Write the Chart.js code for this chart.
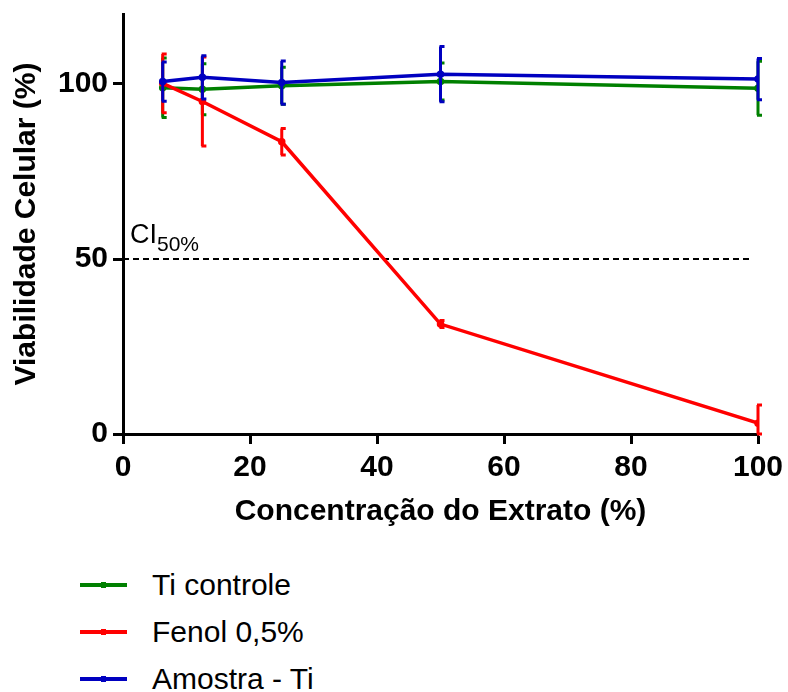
<!DOCTYPE html>
<html>
<head>
<meta charset="utf-8">
<script src="https://cdn.jsdelivr.net/npm/chart.js@4.4.1/dist/chart.umd.min.js"></script>
<style>
  html, body { margin: 0; padding: 0; background: #fff; }
  #wrap { position: relative; width: 788px; height: 692px; font-family: 'Liberation Sans', Arial, sans-serif; }
  #chart { position: absolute; left: 0; top: 0; }
  .legend-row { position: absolute; left: 80px; height: 30px; display: flex; align-items: center; font-size: 30px; color: #000; }
  .legend-row .swatch { position: relative; width: 47px; height: 4px; margin-right: 25px; }
  .legend-row .swatch i { position: absolute; left: 21px; top: -1px; width: 5px; height: 6px; }
</style>
</head>
<body>
<div id="wrap">
  <canvas id="chart" width="788" height="540"></canvas>
  <div id="legend"></div>
</div>
<script>
const conc = [6.25, 12.5, 25, 50, 100];

const tiControle = [98.9, 98.5, 99.5, 100.7, 98.8];
const tiControleErr = [8.5, 7.3, 5.3, 5.3, 7.7];

const fenol = [100.2, 95.0, 83.5, 31.4, 3.1];
const fenolErr = [8.4, 12.7, 3.8, 1.0, 5.2];

const amostra = [100.7, 101.9, 100.4, 102.8, 101.4];
const amostraErr = [5.6, 6.2, 6.2, 7.9, 5.9];

const cutoffX = [0, 99];
const cutoffY = [50, 50];

const xTicks = [0, 20, 40, 60, 80, 100];
const yTicks = [0, 50, 100];

const series = [
  { label: 'Ti controle', values: tiControle, err: tiControleErr, color: '#008000', order: 3 },
  { label: 'Fenol 0,5%', values: fenol, err: fenolErr, color: '#ff0000', order: 2 },
  { label: 'Amostra - Ti', values: amostra, err: amostraErr, color: '#0000c0', order: 1 },
];

const FONT = "'Liberation Sans', Arial, sans-serif";

// error bars drawn right after each dataset so the stacking matches the lines
const errorBars = {
  id: 'errorBars',
  afterDatasetDraw(chart, args) {
    const ds = chart.data.datasets[args.index];
    if (!ds.errors) return;
    const { ctx, chartArea } = chart;
    const x = chart.scales.x;
    const y = chart.scales.y;
    ctx.save();
    ctx.strokeStyle = ds.borderColor;
    ctx.lineWidth = 3;
    ds.data.forEach((pt, i) => {
      const px = x.getPixelForValue(pt.x);
      const top = y.getPixelForValue(pt.y + ds.errors[i]);
      const bot = Math.min(y.getPixelForValue(pt.y - ds.errors[i]), chartArea.bottom);
      ctx.beginPath();
      ctx.moveTo(px, top);
      ctx.lineTo(px, bot);
      ctx.moveTo(px - 1, top);
      ctx.lineTo(px + 4, top);
      ctx.moveTo(px - 1, bot);
      ctx.lineTo(px + 4, bot);
      ctx.stroke();
    });
    ctx.restore();
  },
};

const ciLabel = {
  id: 'ciLabel',
  afterDatasetsDraw(chart) {
    const { ctx } = chart;
    const px = chart.scales.x.getPixelForValue(1.1);
    const py = chart.scales.y.getPixelForValue(cutoffY[0]);
    ctx.save();
    ctx.fillStyle = '#000';
    ctx.textBaseline = 'alphabetic';
    ctx.font = `27px ${FONT}`;
    ctx.fillText('CI', px, py - 16);
    const w = ctx.measureText('CI').width;
    ctx.font = `21px ${FONT}`;
    ctx.fillText('50%', px + w, py - 8);
    ctx.restore();
  },
};

const datasets = series.map((s) => ({
  label: s.label,
  data: conc.map((c, i) => ({ x: c, y: s.values[i] })),
  errors: s.err,
  borderColor: s.color,
  backgroundColor: s.color,
  borderWidth: 3.5,
  pointRadius: 2,
  pointHoverRadius: 2,
  tension: 0,
  order: s.order,
}));

datasets.push({
  label: 'CI50%',
  data: cutoffX.map((c, i) => ({ x: c, y: cutoffY[i] })),
  borderColor: '#000',
  borderWidth: 1.8,
  borderDash: [6, 4],
  pointRadius: 0,
  order: 5,
});

new Chart(document.getElementById('chart'), {
  type: 'line',
  data: { datasets },
  options: {
    responsive: false,
    animation: false,
    layout: { padding: { left: 0, right: 30, top: 14, bottom: 0 } },
    plugins: { legend: { display: false }, tooltip: { enabled: false } },
    scales: {
      x: {
        type: 'linear',
        min: 0,
        max: 100,
        afterFit: (scale) => {
          scale.height = 106;
          scale.paddingLeft = 0;
          scale.paddingRight = 0;
        },
        afterBuildTicks: (scale) => { scale.ticks = xTicks.map((v) => ({ value: v })); },
        border: { display: true, color: '#000', width: 3 },
        grid: { drawOnChartArea: false, drawTicks: true, tickLength: 10, tickWidth: 3, tickColor: '#000' },
        ticks: { color: '#000', padding: 6, font: { family: FONT, size: 30, weight: 'bold' } },
        title: {
          display: true,
          text: 'Concentração do Extrato (%)',
          color: '#000',
          padding: { top: 0, bottom: 10 },
          font: { family: FONT, size: 30, weight: 'bold' },
        },
      },
      y: {
        type: 'linear',
        min: 0,
        max: 120,
        afterFit: (scale) => {
          scale.width = 123;
          scale.paddingTop = 0;
          scale.paddingBottom = 0;
        },
        afterBuildTicks: (scale) => { scale.ticks = yTicks.map((v) => ({ value: v })); },
        border: { display: true, color: '#000', width: 3 },
        grid: { drawOnChartArea: false, drawTicks: true, tickLength: 10, tickWidth: 3, tickColor: '#000' },
        ticks: { color: '#000', padding: 5, font: { family: FONT, size: 30, weight: 'bold' } },
        title: {
          display: true,
          text: 'Viabilidade Celular (%)',
          color: '#000',
          padding: { top: 9, bottom: 0 },
          font: { family: FONT, size: 30, weight: 'bold' },
        },
      },
    },
  },
  plugins: [errorBars, ciLabel],
});

// legend under the chart
const legendEl = document.getElementById('legend');
series.forEach((s, i) => {
  const row = document.createElement('div');
  row.className = 'legend-row';
  row.style.top = `${570 + i * 47}px`;
  row.innerHTML = `<span class="swatch" style="background:${s.color}"><i style="background:${s.color}"></i></span><span>${s.label}</span>`;
  legendEl.appendChild(row);
});
</script>
</body>
</html>
